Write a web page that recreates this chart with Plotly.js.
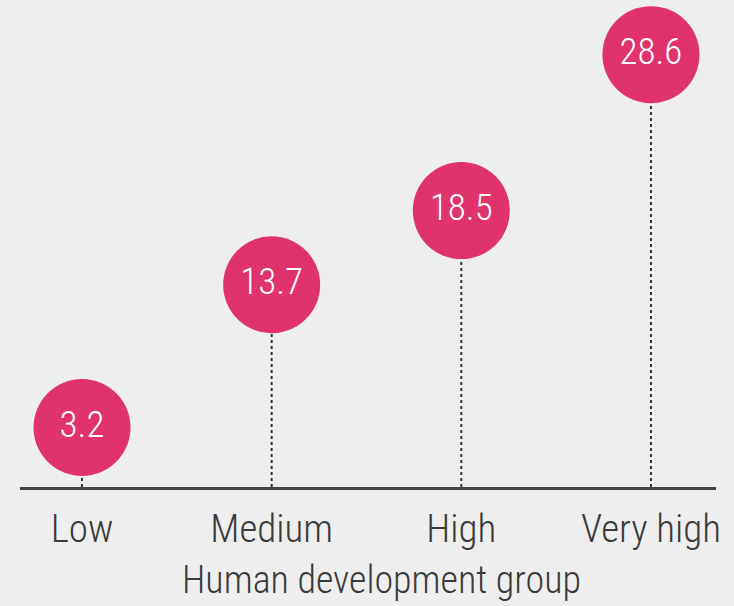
<!DOCTYPE html>
<html>
<head>
<meta charset="utf-8">
<script src="https://cdn.plot.ly/plotly-3.0.1.min.js"></script>
<style>html,body{margin:0;padding:0;background:#eeeeee;}#chart{width:734px;height:606px;}</style>
</head>
<body>
<div id="chart"></div>
<script>
const categories = ["Low", "Medium", "High", "Very high"];
const values = [3.2, 13.7, 18.5, 28.6];
const valueLabels = ["3.2", "13.7", "18.5", "28.6"];
const axisTitle = "Human development group";

const FONT = "'Roboto Condensed', 'Liberation Sans Narrow', 'Arial Narrow', sans-serif";
const W = 734, H = 606;
const margin = {l: 20, r: 18, t: 0, b: 119, pad: 0};
const yRange = [0.6, 32.14];
const markerSize = 97;
const plotH = H - margin.t - margin.b;
const pxPerUnit = plotH / (yRange[1] - yRange[0]);
// keep circles from crossing the baseline: lift a marker so its edge stays a small gap above it
const minCenter = yRange[0] + (markerSize / 2 + 11) / pxPerUnit;
const shown = values.map(v => Math.max(v, minCenter));

const traces = [];
categories.forEach((c, i) => {
  traces.push({
    type: "scatter", mode: "lines", x: [c, c], y: [yRange[0], shown[i]],
    line: {color: "#333333", width: 2, dash: "3px,3px"},
    hoverinfo: "skip", showlegend: false, cliponaxis: false
  });
});
traces.push({
  type: "scatter", mode: "markers+text", x: categories, y: shown,
  text: valueLabels, textposition: "middle center",
  textfont: {family: FONT, size: 37, weight: 300, color: "#ffffff"},
  marker: {size: markerSize, color: "#e0336e", line: {width: 0}},
  showlegend: false, cliponaxis: false
});

const layout = {
  width: W, height: H, margin: margin,
  paper_bgcolor: "#eeeeee", plot_bgcolor: "#eeeeee",
  showlegend: false,
  xaxis: {
    type: "category", range: [-0.327, 3.343],
    showgrid: false, zeroline: false, showline: true, linecolor: "#444444", linewidth: 2.5,
    ticks: "", ticklabelstandoff: 6,
    tickfont: {family: FONT, size: 39, weight: 300, color: "#3a3a3a"}
  },
  yaxis: {
    range: yRange, visible: false, showgrid: false, zeroline: false, fixedrange: true
  },
  annotations: [{
    text: axisTitle, xref: "paper", yref: "paper", x: 0.52, y: -0.191,
    xanchor: "center", yanchor: "middle", showarrow: false,
    font: {family: FONT, size: 38, weight: 300, color: "#3a3a3a"}
  }]
};
Plotly.newPlot("chart", traces, layout, {displayModeBar: false, staticPlot: true});
</script>
</body>
</html>
